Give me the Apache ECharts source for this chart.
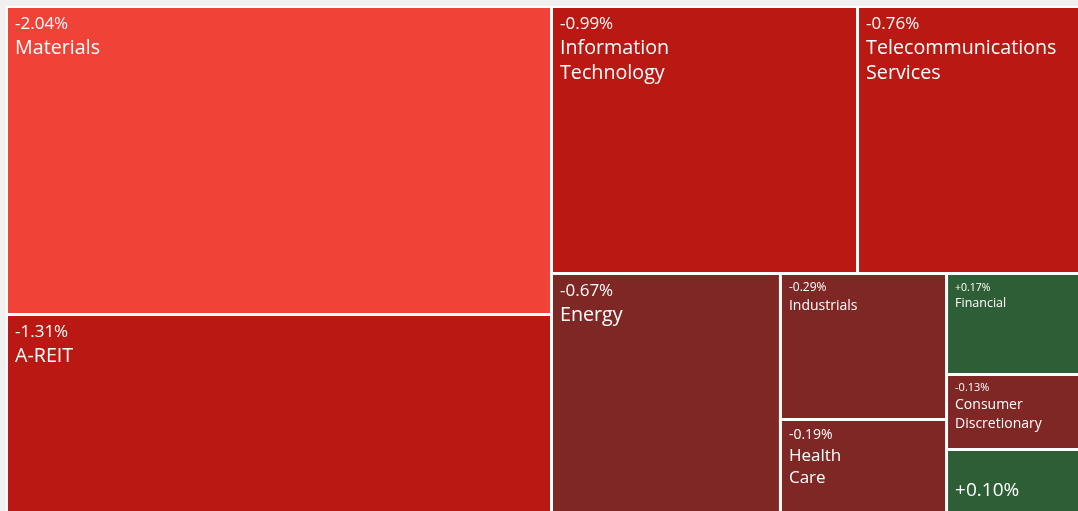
<!DOCTYPE html>
<html>
<head>
<meta charset="utf-8">
<script src="https://cdn.jsdelivr.net/npm/echarts@6/dist/echarts.min.js"></script>
<style>
html,body{margin:0;padding:0;background:#f0f0f0;}
#chart{width:1078px;height:511px;}
</style>
</head>
<body>
<div id="chart"></div>
<script>
// ---- data ----
const sectors = ['Materials', 'A-REIT', 'Information Technology', 'Telecommunications Services',
  'Energy', 'Industrials', 'Health Care', 'Financial', 'Consumer Discretionary', ''];
const changes = [-2.04, -1.31, -0.99, -0.76, -0.67, -0.29, -0.19, 0.17, -0.13, 0.10];
// relative tile weights (share of the map area, %)
const sizes = [30.59, 19.71, 14.89, 11.31, 9.99, 4.42, 2.83, 2.64, 1.96, 1.66];

// ---- styles ----
const FONT = "'Open Sans', 'Noto Sans', sans-serif";
const labelClass = ['big', 'big', 'big', 'big', 'big', 'mid', 'hc', 'tiny', 'small', 'value'];
const classStyle = {
  big:   {pad: [4.5, 4, 0, 7], p: [17, 24], n: [19.7, 24.5]},
  hc:    {pad: [4.5, 4, 0, 7], p: [14, 20], n: [17, 21.5]},
  mid:   {pad: [5, 4, 0, 7], p: [12, 16], n: [14, 20]},
  small: {pad: [5, 4, 0, 7], p: [11, 14], n: [14, 19.5]},
  tiny:  {pad: [6, 4, 0, 7], p: [10.5, 14], n: [12.5, 16]},
  value: {pad: [28, 4, 0, 7], p: [19, 24], n: [19, 24]}
};
function colorFor(ch) {
  if (ch <= -2) return '#f04237';
  if (ch <= -0.7) return '#b91912';
  if (ch < 0) return '#7f2724';
  return '#2e5e36';
}
function fmtPct(ch) {
  return (ch > 0 ? '+' : '') + ch.toFixed(2) + '%';
}
function leaf(i) {
  const cs = classStyle[labelClass[i]];
  let text;
  if (labelClass[i] === 'value') {
    text = '{p|' + fmtPct(changes[i]) + '}';
  } else {
    text = '{p|' + fmtPct(changes[i]) + '}\n' +
      sectors[i].split(' ').map(w => '{n|' + w + '}').join('\n');
  }
  return {
    name: sectors[i],
    value: sizes[i],
    itemStyle: {color: colorFor(changes[i])},
    label: {
      show: true,
      position: 'insideTopLeft',
      distance: 0,
      padding: cs.pad,
      formatter: text,
      rich: {
        p: {fontFamily: FONT, fontSize: cs.p[0], lineHeight: cs.p[1], color: '#ffffff'},
        n: {fontFamily: FONT, fontSize: cs.n[0], lineHeight: cs.n[1], color: '#ffffff'}
      }
    }
  };
}
function group(children) {
  return {name: '', children: children};
}

// nesting that reproduces the reference tiling (order kept as given)
const treeData = [
  leaf(0),
  leaf(1),
  group([
    group([leaf(2), leaf(3)]),
    group([
      group([leaf(4), group([leaf(5), leaf(6)])]),
      group([group([leaf(7), leaf(8)]), leaf(9)])
    ])
  ])
];

const chart = echarts.init(document.getElementById('chart'), null, {renderer: 'canvas'});
chart.setOption({
  backgroundColor: '#f0f0f0',
  animation: false,
  tooltip: {show: false},
  series: [{
    type: 'treemap',
    left: 6,
    top: 6,
    width: 1084.5,
    height: 507.5,
    roam: false,
    nodeClick: false,
    sort: false,
    squareRatio: 1.38,
    breadcrumb: {show: false},
    itemStyle: {borderWidth: 0, gapWidth: 3, borderColor: '#ffffff'},
    levels: [
      {itemStyle: {borderWidth: 2, gapWidth: 3, borderColor: '#ffffff'}}
    ],
    label: {show: true, position: 'insideTopLeft', color: '#fff', fontFamily: FONT},
    upperLabel: {show: false},
    emphasis: {disabled: true},
    data: treeData
  }]
});
</script>
</body>
</html>
